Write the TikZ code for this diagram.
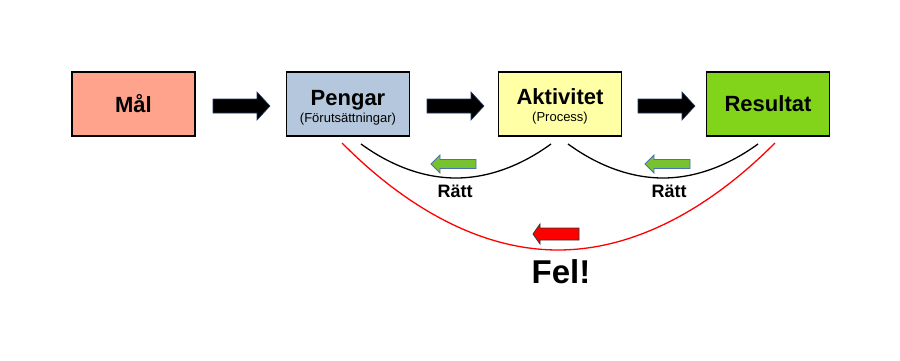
\documentclass[tikz,border=0pt]{standalone}
\usepackage{fontspec}
\setmainfont{Liberation Sans}
\definecolor{malfill}{HTML}{FFA38C}
\definecolor{pengfill}{HTML}{B4C7DC}
\definecolor{aktfill}{HTML}{FFFFA6}
\definecolor{resfill}{HTML}{81D41A}
\definecolor{garrow}{HTML}{77C22E}
\definecolor{gedge}{HTML}{4A72B0}
\definecolor{bedge}{HTML}{1F3A60}
\tikzset{
  box/.style={draw=black, line width=1.6pt, minimum width=123pt, minimum height=64pt, inner sep=0pt, align=center},
  big/.style={font=\fontsize{22}{24}\selectfont\bfseries},
  small/.style={font=\fontsize{13}{14}\selectfont},
  lbl/.style={font=\fontsize{18}{20}\selectfont\bfseries},
  arc/.style={line width=1.3pt},
  pics/rarr/.style={code={
    \draw[fill=black, draw=bedge, line width=0.6pt]
      (0,-7) -- (44,-7) -- (44,-14) -- (57,0) -- (44,14) -- (44,7) -- (0,7) -- cycle;}},
  pics/garr/.style={code={
    \draw[fill=garrow, draw=gedge, line width=0.8pt]
      (0,0) -- (9,-9) -- (9,-4.5) -- (45,-4.5) -- (45,4.5) -- (9,4.5) -- (9,9) -- cycle;}},
  pics/rdarr/.style={code={
    \draw[fill=red, draw=black!80, line width=0.8pt]
      (0,0) -- (7,-10) -- (7,-6) -- (46,-6) -- (46,6) -- (7,6) -- (7,10) -- cycle;}}
}
\begin{document}
\begin{tikzpicture}[x=1pt,y=-1pt]
\useasboundingbox (0,0) rectangle (900,360);
\node[box, fill=malfill, big] (mal) at (133.5,104) {Mål};
\node[box, fill=pengfill] (peng) at (348,104) {};
\node[big, anchor=base, inner sep=0pt] (pengt) at (348,105) {Pengar};
\node[small, anchor=base, inner sep=0pt] (pengs) at (348,122) {(Förutsättningar)};
\node[box, fill=aktfill] (akt) at (560,104) {};
\node[big, anchor=base, inner sep=0pt] (aktt) at (560,104) {Aktivitet};
\node[small, anchor=base, inner sep=0pt] (akts) at (560,121) {(Process)};
\node[box, fill=resfill, big] (res) at (768,104) {Resultat};

\pic at (213,106) {rarr};
\pic at (427,106) {rarr};
\pic at (638,106) {rarr};

\coordinate (a1) at (361,144);
\coordinate (b1) at (456,178);
\coordinate (c1) at (551,144);
\coordinate (a2) at (568,144);
\coordinate (b2) at (663,178);
\coordinate (c2) at (758,144);
\coordinate (a3) at (342,143);
\coordinate (b3) at (558,250);
\coordinate (c3) at (775,143);
\draw[arc, black] (a1) parabola bend (b1) (c1);
\draw[arc, black] (a2) parabola bend (b2) (c2);
\draw[arc, red] (a3) parabola bend (b3) (c3);

\pic at (431,164) {garr};
\pic at (645,164) {garr};
\pic at (533,234) {rdarr};

\node[lbl] (r1) at (455,191) {Rätt};
\node[lbl] (r2) at (669,191) {Rätt};
\node[font=\fontsize{33}{36}\selectfont\bfseries] (fel) at (561,272) {Fel!};
\end{tikzpicture}
\end{document}
